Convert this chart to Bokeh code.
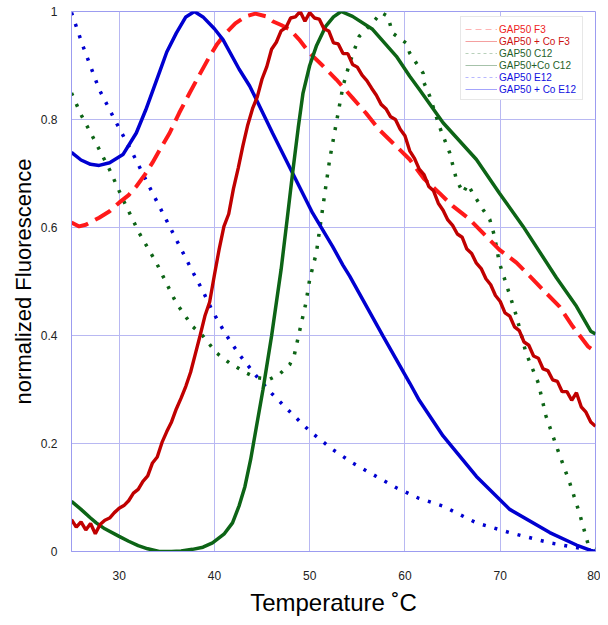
from bokeh.plotting import figure
from bokeh.models import Legend, LegendItem, FixedTicker, CustomJSTickFormatter
from bokeh.embed import file_html
from bokeh.resources import INLINE

# ---------------- data ----------------
# GAP50 F3 (red dashed)
f3_t = [25, 25.8, 26.5, 27.9, 29, 30, 31, 31.8, 32.7, 33.5, 34.4, 35.3, 36.3, 37.4,
        38.5, 39.5, 40.3, 41.2, 42.2, 43.3, 44.3, 45.4, 46.1, 47, 47.9, 48.9, 50,
        51.4, 52.8, 54.5, 55.9, 57.3, 58.7, 60.5, 62, 63.6, 65, 66.8, 68.5, 69.9,
        71.7, 73.1, 74.8, 76.2, 77.6, 79.2, 80]
f3_v = [0.609, 0.602, 0.605, 0.618, 0.630, 0.646, 0.660, 0.676, 0.698, 0.720, 0.748,
        0.775, 0.812, 0.849, 0.885, 0.917, 0.940, 0.960, 0.978, 0.991, 0.996, 0.991,
        0.982, 0.975, 0.967, 0.948, 0.923, 0.899, 0.874, 0.840, 0.812, 0.781, 0.757,
        0.726, 0.690, 0.664, 0.640, 0.615, 0.584, 0.559, 0.535, 0.510, 0.479, 0.454,
        0.417, 0.380, 0.370]

# GAP50 + Co F3 (dark red solid, noisy)
cof3_t = [25, 25.5, 26, 26.5, 27, 27.5, 28, 28.5, 29, 29.5, 30, 30.5, 31, 31.5, 32,
          32.5, 33, 33.5, 34, 34.5, 35, 35.5, 36, 36.5, 37, 37.5, 38, 38.5, 39, 39.5,
          40, 40.5, 41, 41.5, 42, 42.5, 43, 43.5, 44, 44.5, 45, 45.5, 46, 46.5, 47,
          47.5, 48, 48.5, 49, 49.5, 50, 50.5, 51, 51.5, 52, 52.5, 53, 53.5, 54, 54.5,
          55, 55.5, 56, 56.5, 57, 57.5, 58, 58.5, 59, 59.5, 60, 60.5, 61, 61.5, 62,
          62.5, 63, 63.5, 64, 64.5, 65, 65.5, 66, 66.5, 67, 67.5, 68, 68.5, 69, 69.5,
          70, 70.5, 71, 71.5, 72, 72.5, 73, 73.5, 74, 74.5, 75, 75.5, 76, 76.5, 77,
          77.5, 78, 78.5, 79, 79.5, 80]
cof3_v = [0.059, 0.045, 0.055, 0.040, 0.052, 0.033, 0.050, 0.058, 0.062, 0.072, 0.080,
          0.085, 0.094, 0.108, 0.115, 0.130, 0.140, 0.164, 0.175, 0.202, 0.222, 0.240,
          0.264, 0.284, 0.306, 0.332, 0.366, 0.400, 0.436, 0.462, 0.512, 0.560, 0.602,
          0.625, 0.672, 0.710, 0.752, 0.790, 0.820, 0.842, 0.875, 0.898, 0.930, 0.943,
          0.964, 0.970, 0.988, 0.990, 1.000, 0.982, 0.998, 0.988, 0.986, 0.968, 0.964,
          0.942, 0.940, 0.922, 0.922, 0.902, 0.897, 0.882, 0.872, 0.858, 0.845, 0.828,
          0.820, 0.805, 0.800, 0.782, 0.770, 0.742, 0.728, 0.708, 0.698, 0.676, 0.668,
          0.645, 0.632, 0.614, 0.604, 0.588, 0.582, 0.560, 0.552, 0.534, 0.524, 0.505,
          0.494, 0.474, 0.463, 0.442, 0.436, 0.416, 0.409, 0.388, 0.382, 0.362, 0.358,
          0.338, 0.335, 0.318, 0.315, 0.296, 0.296, 0.280, 0.294, 0.268, 0.258, 0.240,
          0.232]

# GAP50 C12 (green dotted)
c12_t = [25, 26, 27.2, 29, 30.4, 32.1, 33.9, 34.6, 36, 37.7, 38.8, 40.2, 41.6, 43.3,
         44.4, 45.8, 46.8, 47.9, 48.4, 48.9, 49.6, 50, 50.7, 51.4, 52.1, 52.8, 53.5,
         54.2, 55.2, 56.6, 57.5, 58.2, 58.7, 60.1, 60.5, 61.4, 61.9, 62.0, 62.6, 63.6,
         64.7, 65.4, 66.1, 66.6, 67.1, 68.2, 68.9, 69.4, 69.9, 70.6, 71.7, 72.7, 74,
         74.8, 75.9, 77.3, 78.3, 79.2, 80]
c12_v = [0.849, 0.809, 0.769, 0.707, 0.652, 0.590, 0.535, 0.510, 0.460, 0.417, 0.399,
         0.368, 0.349, 0.331, 0.322, 0.319, 0.328, 0.346, 0.365, 0.405, 0.460, 0.504,
         0.553, 0.640, 0.726, 0.794, 0.862, 0.905, 0.954, 0.979, 0.998, 0.991, 0.960,
         0.942, 0.923, 0.899, 0.886, 0.868, 0.843, 0.788, 0.738, 0.689, 0.664, 0.680,
         0.664, 0.633, 0.615, 0.584, 0.535, 0.497, 0.436, 0.368, 0.312, 0.251, 0.195,
         0.127, 0.072, 0.015, 0.005]

# GAP50+Co C12 (green solid)
coc12_t = [25, 26, 27, 27.6, 28.5, 30, 31, 32, 33, 34.2, 35.5, 36.5, 37.7, 38.8, 39.8,
           41, 41.9, 42.6, 43.2, 43.8, 44.4, 45.1, 46, 47, 47.6, 48.2, 48.8, 49.3, 50,
           50.7, 51.7, 52.5, 53.3, 54.5, 56.6, 59.1, 60.5, 61.5, 64, 67.5, 69.9, 72.4,
           75.9, 78, 79.5, 80]
coc12_v = [0.093, 0.078, 0.062, 0.053, 0.042, 0.028, 0.019, 0.011, 0.005, 0.000, 0.000,
           0.001, 0.004, 0.008, 0.016, 0.032, 0.053, 0.085, 0.120, 0.170, 0.230, 0.300,
           0.399, 0.522, 0.610, 0.700, 0.785, 0.849, 0.900, 0.936, 0.973, 0.990, 1.000,
           0.991, 0.967, 0.917, 0.880, 0.856, 0.794, 0.726, 0.664, 0.602, 0.507, 0.454,
           0.408, 0.403]

# GAP50 E12 (blue dotted)
e12_t = [25, 26.2, 27.9, 29.7, 31.4, 33.5, 35.3, 37.6, 38.8, 39.8, 41.2, 42.6, 44.4,
         46.1, 48.2, 50, 52.4, 54.5, 57, 59.1, 61.4, 64, 67.5, 71, 75.2, 79, 80]
e12_v = [0.998, 0.936, 0.856, 0.794, 0.738, 0.664, 0.602, 0.522, 0.482, 0.445, 0.402,
         0.365, 0.325, 0.291, 0.254, 0.223, 0.189, 0.164, 0.139, 0.118, 0.099, 0.084,
         0.053, 0.035, 0.016, 0.004, 0.000]

# GAP50 + Co E12 (blue solid)
coe12_t = [25, 26, 27, 27.9, 29, 30.4, 31.8, 32.8, 34.2, 35, 36, 37, 37.9, 38.8, 40,
           40.9, 42.6, 43.7, 44.4, 46.1, 48.2, 50.3, 52.4, 53.5, 54.2, 57.7, 60.5, 61.5,
           64, 67.5, 71, 75.2, 78, 79.5, 80]
coe12_v = [0.739, 0.725, 0.717, 0.715, 0.720, 0.735, 0.775, 0.818, 0.886, 0.925, 0.960,
           0.990, 1.000, 0.990, 0.968, 0.948, 0.893, 0.862, 0.837, 0.775, 0.701, 0.627,
           0.565, 0.530, 0.510, 0.399, 0.312, 0.280, 0.214, 0.139, 0.078, 0.035, 0.012,
           0.002, 0.000]

x_ticks = [30, 40, 50, 60, 70, 80]
y_ticks = [0, 0.2, 0.4, 0.6, 0.8, 1]

legend_labels = ["GAP50 F3", "GAP50 + Co F3", "GAP50 C12", "GAP50+Co C12",
                 "GAP50 E12", "GAP50 + Co E12"]

# ---------------- styling ----------------
FONT = "Liberation Sans"
RED_D = "#ff1a1a"
RED_S = "#c00000"
GREEN = "#0d6416"
BLUE = "#0000d0"

p = figure(width=600, height=620, x_range=(25, 80), y_range=(0, 1),
           output_backend="svg", toolbar_location=None,
           min_border_left=71, min_border_right=5, min_border_top=11,
           min_border_bottom=69)

p.background_fill_color = "white"
p.border_fill_color = "white"
p.outline_line_color = "#9c9cf0"
p.outline_line_width = 1

p.xaxis.ticker = FixedTicker(ticks=x_ticks)
p.yaxis.ticker = FixedTicker(ticks=y_ticks)
p.yaxis.formatter = CustomJSTickFormatter(code="return tick.toString();")
p.xaxis.formatter = CustomJSTickFormatter(code="return tick.toString();")

for ax in (p.xaxis, p.yaxis):
    ax.axis_line_color = "#9c9cf0"
    ax.major_tick_line_color = None
    ax.minor_tick_line_color = None
    ax.major_tick_out = 0
    ax.major_tick_in = 0
    ax.major_label_text_font = FONT
    ax.major_label_text_font_size = "12px"
    ax.major_label_text_color = "#222222"
    ax.axis_label_text_font = FONT
    ax.axis_label_text_font_style = "normal"
    ax.axis_label_text_color = "black"

p.xaxis.major_label_standoff = 19
p.yaxis.major_label_standoff = 14
p.xaxis.axis_label = "Temperature ˚C"
p.yaxis.axis_label = "normalized Fluorescence"
p.xaxis.axis_label_text_font_size = "24px"
p.yaxis.axis_label_text_font_size = "22px"
p.xaxis.axis_label_standoff = 6
p.yaxis.axis_label_standoff = 2

p.grid.grid_line_color = "#b8b8f2"
p.grid.grid_line_width = 1

# ---------------- curves ----------------
series = [
    (f3_t, f3_v, RED_D, 4, "18 8"),
    (cof3_t, cof3_v, RED_S, 3.4, "solid"),
    (c12_t, c12_v, GREEN, 3.5, "3 9"),
    (coc12_t, coc12_v, GREEN, 3.5, "solid"),
    (e12_t, e12_v, BLUE, 3.5, "3 9"),
    (coe12_t, coe12_v, BLUE, 3.5, "solid"),
]
draw_order = [4, 2, 0, 5, 3, 1]
for k in draw_order:
    t, v, col, w, dash = series[k]
    p.line(t, v, line_color=col, line_width=w, line_dash=dash, line_cap="butt")

# ---------------- legend ----------------
leg_text_colors = ["#ee2222", "#cc1111", "#1f5f2a", "#1f5f2a", "#1010e0", "#1010e0"]
leg_line_colors = ["#ffb4b4", "#f4a0a0", "#b8d0ba", "#a6c2aa", "#b8b8ff", "#a4a4fc"]
leg_line_dash = ["6 4", "solid", "3 3", "solid", "3 3", "solid"]

PAD = 5
ROW = 12
BOX_X = 389
BOX_Y = 451


def legend_kwargs():
    return dict(padding=PAD, spacing=0, margin=0, label_height=ROW, glyph_height=ROW,
                glyph_width=32, label_standoff=2, label_text_font=FONT,
                label_text_font_size="10px")


# hidden thin copies of the series, used only as legend swatches
swatches = []
for i in range(6):
    t, v = series[i][0], series[i][1]
    r = p.line(t, v, line_color=leg_line_colors[i], line_width=1,
               line_dash=leg_line_dash[i], visible=False)
    swatches.append(r)

box_items = []
for i, lab in enumerate(legend_labels):
    t, v = series[i][0], series[i][1]
    r = p.line(t, v, line_alpha=0, visible=False)
    box_items.append(LegendItem(label=lab, renderers=[r]))
box = Legend(items=box_items, location=(BOX_X, BOX_Y), border_line_color="#cfcfcf",
             border_line_width=1, background_fill_color="white",
             background_fill_alpha=1, label_text_alpha=0, **legend_kwargs())
p.add_layout(box, "center")

for i, lab in enumerate(legend_labels):
    lg = Legend(items=[LegendItem(label=lab, renderers=[swatches[i]])],
                location=(BOX_X, BOX_Y + (5 - i) * ROW),
                border_line_alpha=0, background_fill_alpha=0,
                inactive_fill_alpha=0,
                label_text_color=leg_text_colors[i], **legend_kwargs())
    p.add_layout(lg, "center")

open("out.html", "w").write(file_html(p, INLINE))
